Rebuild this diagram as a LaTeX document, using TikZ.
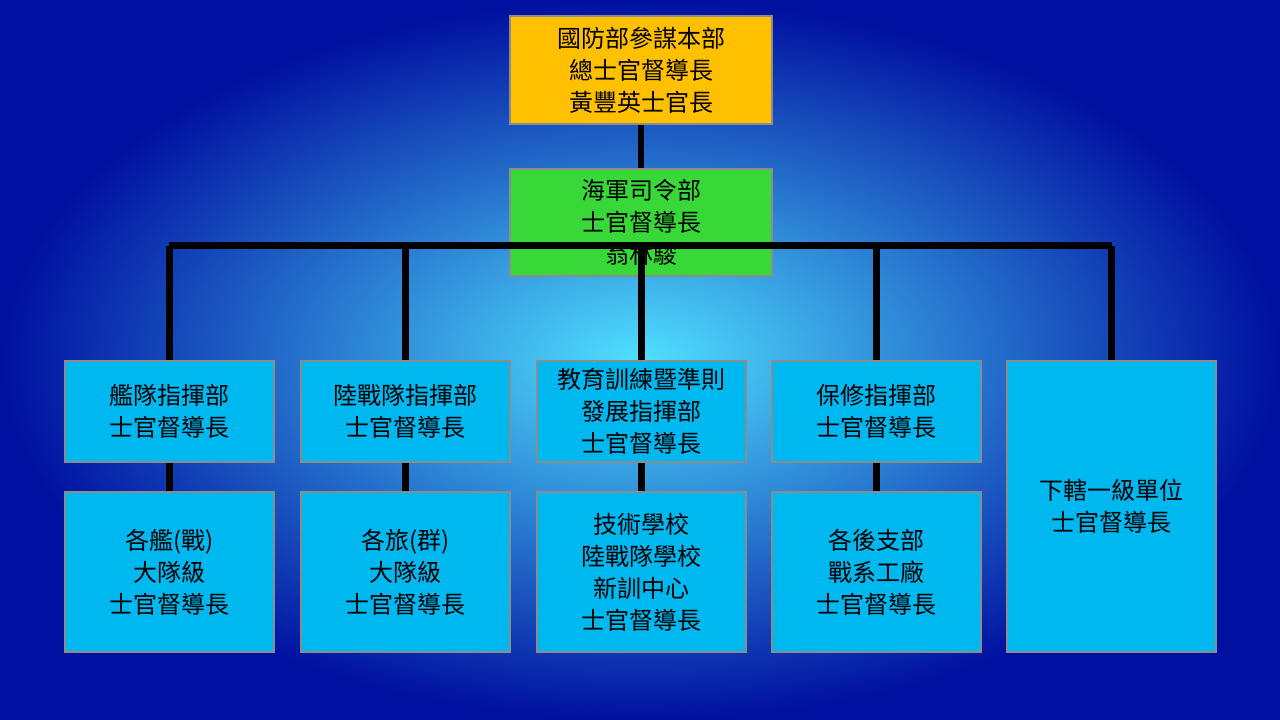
\documentclass[tikz,border=0pt]{standalone}
\usepackage{fontspec}
\newfontfamily\cjk{Noto Sans CJK TC}
\definecolor{boxblue}{HTML}{00B8F0}
\definecolor{boxgold}{HTML}{FFC000}
\definecolor{boxgreen}{HTML}{38D838}
\definecolor{bgdark}{HTML}{0010A0}
\definecolor{bgmid}{HTML}{10A0F0}
\definecolor{bglight}{HTML}{50E0FF}
\tikzset{
  unitbox/.style={draw=black!45, line width=1.5pt, fill=boxblue, align=center,
    font=\cjk\fontsize{18}{24}\selectfont, inner sep=0pt, anchor=north west},
  link/.style={line width=5pt, black}
}
\begin{document}
\begin{tikzpicture}[x=0.75pt,y=0.75pt,yscale=-1,xscale=1]
    \useasboundingbox (0,0) rectangle (1280,720);
    \shade[inner color=bglight, middle color=bgmid, outer color=bgdark] (0,0) rectangle (1280,720);

    % Top
    \node[unitbox, fill=boxgold, minimum width=196.5pt, minimum height=81pt] (hq) at (509,15) {國防部參謀本部\\總士官督導長\\黃豐英士官長};
    \node[unitbox, fill=boxgreen, minimum width=196.5pt, minimum height=80pt] (navy) at (509,168) {海軍司令部\\士官督導長\\翁林駿};
    % Row 1
    \node[unitbox, minimum width=156.5pt, minimum height=75.5pt] (fleet) at (64,360) {艦隊指揮部\\士官督導長};
    \node[unitbox, minimum width=156.5pt, minimum height=75.5pt] (marine) at (300,360) {陸戰隊指揮部\\士官督導長};
    \node[unitbox, minimum width=156.5pt, minimum height=75.5pt] (edu) at (536,360) {教育訓練暨準則\\發展指揮部\\士官督導長};
    \node[unitbox, minimum width=156.5pt, minimum height=75.5pt] (maint) at (771,360) {保修指揮部\\士官督導長};
    \node[unitbox, minimum width=157pt, minimum height=218pt] (direct) at (1006,360) {下轄一級單位\\士官督導長};
    % Row 2
    \node[unitbox, minimum width=156.5pt, minimum height=120pt] (ships) at (64,491) {各艦(戰)\\大隊級\\士官督導長};
    \node[unitbox, minimum width=156.5pt, minimum height=120pt] (brig) at (300,491) {各旅(群)\\大隊級\\士官督導長};
    \node[unitbox, minimum width=156.5pt, minimum height=120pt] (school) at (536,491) {技術學校\\陸戰隊學校\\新訓中心\\士官督導長};
    \node[unitbox, minimum width=156.5pt, minimum height=120pt] (depot) at (771,491) {各後支部\\戰系工廠\\士官督導長};

    % Connection
    \coordinate (bus) at ([yshift=-23.25pt]navy.south);
    \draw[link] (hq.south) -- (navy.north);
    \draw[link] (navy.south) -- (bus);
    \draw[link] (fleet.north |- bus) -- (direct.north |- bus);
    \foreach \u in {fleet,marine,edu,maint,direct}
      \draw[link] (\u.north |- bus) -- (\u.north);
    \draw[link] (fleet) -- (ships);
    \draw[link] (marine) -- (brig);
    \draw[link] (edu) -- (school);
    \draw[link] (maint) -- (depot);
\end{tikzpicture}
\end{document}
